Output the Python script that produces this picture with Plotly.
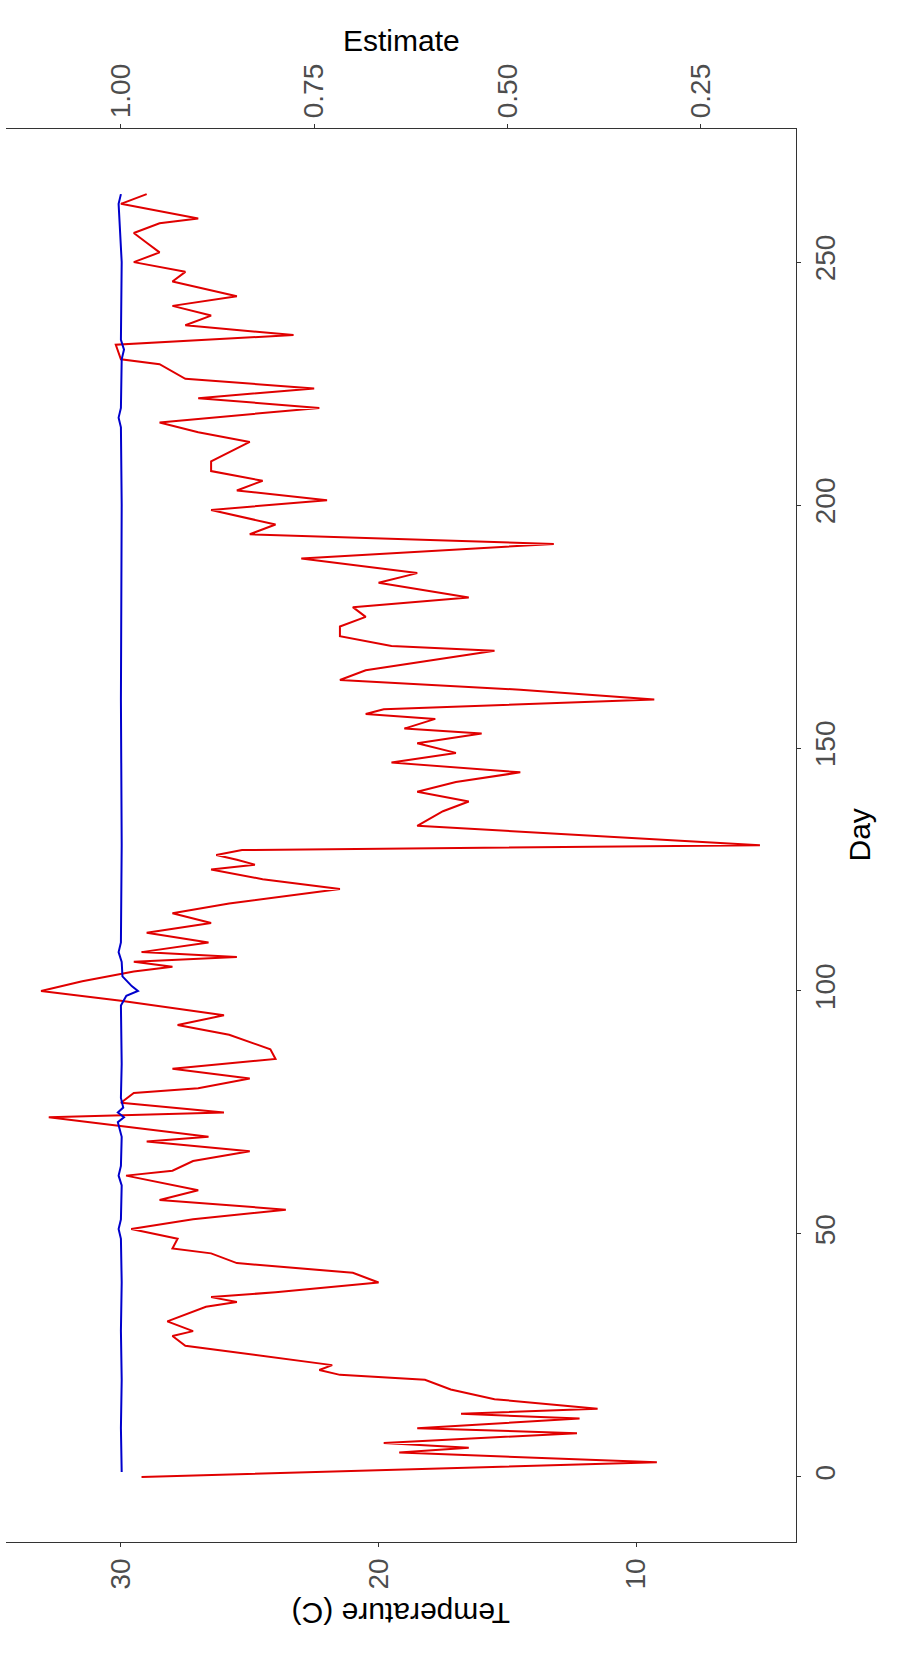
import plotly.graph_objects as go

# Daily water temperature (C) along the day axis (vertices of the series)
temp_day = [0, 3, 5, 6, 7, 9, 10, 12, 13, 14,
            16, 18, 20, 21, 22, 23, 27, 29, 30, 32,
            35, 36, 37, 38, 40, 42, 44, 46, 47, 49,
            51, 53, 55, 57, 59, 62, 63, 65, 67, 69,
            70, 72, 74, 75, 77, 79, 80, 82, 84, 86,
            88, 91, 93, 95, 98, 100, 102, 104, 105, 106,
            107, 108, 110, 112, 114, 116, 118, 121, 123, 125,
            126, 127, 128, 129, 130, 134, 137, 139, 141, 143,
            145, 147, 149, 151, 153, 154, 156, 157, 158, 160,
            162, 164, 166, 170, 171, 173, 175, 177, 179, 181,
            184, 186, 188, 189, 192, 194, 196, 199, 201, 203,
            205, 207, 209, 213, 215, 217, 220, 222, 224, 226,
            229, 230, 233, 235, 237, 239, 241, 243, 246, 248,
            250, 252, 254, 256, 258, 259, 262, 264]
temp_c = [29.2, 9.2, 19.2, 16.5, 19.8, 12.3, 18.5, 12.2, 16.8, 11.5,
          15.5, 17.2, 18.2, 21.5, 22.3, 21.8, 27.5, 28.0, 27.2, 28.2,
          26.7, 25.5, 26.5, 24.0, 20.0, 21.0, 25.5, 26.5, 28.0, 27.8,
          29.6, 27.2, 23.6, 28.5, 27.0, 29.8, 28.0, 27.2, 25.0, 29.0,
          26.6, 29.8, 32.8, 26.0, 30.0, 29.5, 27.0, 25.0, 28.0, 24.0,
          24.2, 25.8, 27.8, 26.0, 30.0, 33.1, 31.5, 29.5, 28.0, 29.5,
          25.5, 29.2, 26.6, 29.0, 26.5, 28.0, 25.8, 21.5, 24.5, 26.5,
          24.8, 25.5, 26.3, 25.3, 5.2, 18.5, 17.5, 16.5, 18.5, 17.0,
          14.5, 19.5, 17.0, 18.5, 16.0, 19.0, 17.8, 20.5, 19.8, 9.3,
          14.5, 21.5, 20.5, 15.5, 19.5, 21.5, 21.5, 20.5, 21.0, 16.5,
          20.0, 18.5, 21.5, 23.0, 13.2, 25.0, 24.0, 26.5, 22.0, 25.5,
          24.5, 26.5, 26.5, 25.0, 27.0, 28.5, 22.3, 27.0, 22.5, 27.5,
          28.5, 30.0, 30.2, 23.3, 27.5, 26.5, 28.0, 25.5, 28.0, 27.5,
          29.5, 28.5, 29.0, 29.5, 28.5, 27.0, 30.0, 29.0]

# Model estimate on the secondary axis
est_day = [1, 10, 20, 30, 40, 49, 51, 53, 60, 62,
           64, 70, 73, 74, 75, 76, 78, 85, 97, 99,
           100, 101, 103, 106, 108, 110, 130, 160, 200, 216,
           218, 220, 230, 232, 234, 250, 262, 264]
est_val = [0.999, 1.0, 0.999, 1.0, 0.999, 1.0, 1.003, 1.0, 0.999, 1.003,
           1.0, 0.999, 1.004, 0.996, 1.004, 0.997, 1.0, 0.999, 1.0, 0.993,
           0.978, 0.986, 0.998, 0.999, 1.003, 1.0, 0.999, 1.0, 0.999, 1.0,
           1.003, 1.0, 0.999, 0.996, 1.0, 0.999, 1.003, 1.0]

temp_ticks = [30, 20, 10]
est_ticks = [1.00, 0.75, 0.50, 0.25]
day_ticks = [0, 50, 100, 150, 200, 250]

t_range = [34.46, 3.80]
est_range = [t_range[0] / 30, t_range[1] / 30]

W, H = 898, 1654
ml, mr, mt, mb = 6, 102, 129, 112
pw, ph = W - ml - mr, H - mt - mb

fig = go.Figure()
fig.add_trace(go.Scatter(x=temp_c, y=temp_day, mode="lines",
                         line=dict(color="#e00000", width=2), xaxis="x", yaxis="y",
                         showlegend=False))
fig.add_trace(go.Scatter(x=est_val, y=est_day, mode="lines",
                         line=dict(color="#0000cc", width=2), xaxis="x2", yaxis="y",
                         showlegend=False))

tick_font = dict(family="Liberation Sans, Arial, sans-serif", size=28, color="#4d4d4d")
axis_common = dict(showgrid=False, zeroline=False, showline=True, linecolor="#333333",
                   linewidth=1.3, ticks="outside", ticklen=4, tickcolor="#333333",
                   tickwidth=1, tickangle=-90, tickfont=tick_font)

fig.update_layout(
    width=W, height=H,
    margin=dict(l=ml, r=mr, t=mt, b=mb),
    paper_bgcolor="white", plot_bgcolor="white",
    xaxis=dict(range=t_range, tickvals=temp_ticks, ticktext=[str(v) for v in temp_ticks],
               side="bottom", **axis_common),
    xaxis2=dict(range=est_range, tickvals=est_ticks, ticktext=[f"{v:.2f}" for v in est_ticks],
                overlaying="x", side="top", **axis_common),
    yaxis=dict(range=[-13.4, 277.4], tickvals=day_ticks, ticktext=[str(v) for v in day_ticks],
               side="right", **axis_common),
)

title_font = dict(family="Liberation Sans, Arial, sans-serif", size=30, color="black")


def px_x(X):
    return (X - ml) / pw


def px_y(Y):
    return (H - mb - Y) / ph


fig.add_annotation(text="Estimate", x=px_x(401), y=px_y(22), xref="paper", yref="paper",
                   showarrow=False, font=title_font)
fig.add_annotation(text="Temperature (C)", x=px_x(401), y=px_y(1632), xref="paper", yref="paper",
                   showarrow=False, font=title_font, textangle=180)
fig.add_annotation(text="Day", x=px_x(877), y=px_y(835), xref="paper", yref="paper",
                   showarrow=False, font=title_font, textangle=-90)

fig.write_html("out.html")
